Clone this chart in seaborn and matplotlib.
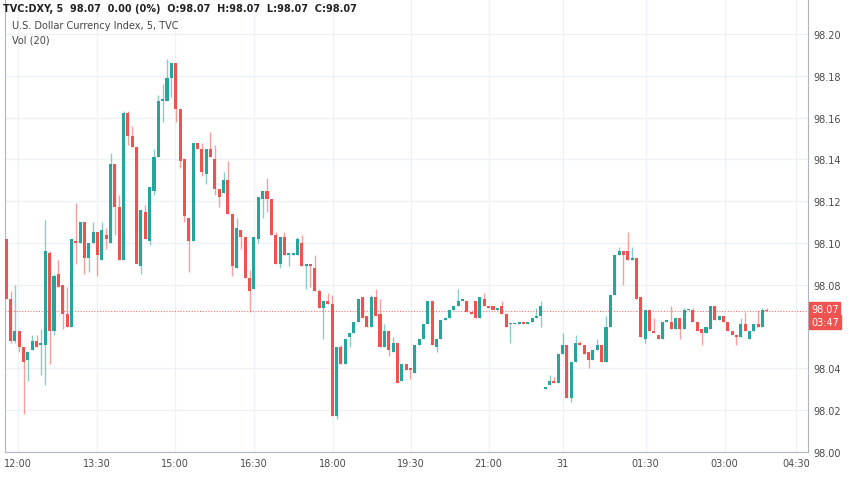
import numpy as np
import pandas as pd
import matplotlib
matplotlib.use("Agg")
import matplotlib.pyplot as plt
import seaborn as sns

# velas de 5 minutos
opens = [98.102,98.073,98.053,98.058,98.050,98.044,98.049,98.053,98.051,98.051,
98.095,98.058,98.085,98.080,98.066,98.060,98.101,98.100,98.110,98.093,
98.100,98.105,98.092,98.104,98.100,98.138,98.117,98.092,98.162,98.151,
98.146,98.089,98.115,98.101,98.125,98.141,98.168,98.168,98.179,98.186,
98.164,98.140,98.112,98.101,98.148,98.145,98.133,98.145,98.140,98.126,
98.124,98.130,98.114,98.088,98.106,98.103,98.083,98.078,98.102,98.121,
98.125,98.121,98.104,98.090,98.103,98.094,98.094,98.094,98.100,98.089,
98.090,98.088,98.077,98.069,98.072,98.071,98.017,98.050,98.042,98.055,
98.057,98.062,98.074,98.065,98.060,98.074,98.066,98.050,98.058,98.048,
98.052,98.034,98.042,98.040,98.038,98.051,98.054,98.061,98.072,98.050,
98.054,98.063,98.064,98.068,98.070,98.072,98.072,98.067,98.072,98.064,
98.073,98.070,98.070,98.068,98.070,98.066,98.061,98.061,98.061,98.062,
98.061,98.062,98.064,98.065,98.030,98.032,98.034,98.033,98.047,98.051,
98.026,98.043,98.052,98.051,98.048,98.044,98.049,98.051,98.043,98.060,
98.075,98.094,98.096,98.096,98.092,98.093,98.074,98.054,98.068,98.058,
98.056,98.054,98.062,98.062,98.059,98.064,98.059,98.068,98.068,98.062,
98.059,98.057,98.059,98.070,98.063,98.065,98.062,98.058,98.056,98.055,
98.061,98.054,98.058,98.061,98.060,98.068]
closes = [98.073,98.053,98.058,98.050,98.043,98.048,98.053,98.050,98.052,98.096,
98.058,98.084,98.079,98.066,98.060,98.102,98.100,98.110,98.093,98.100,
98.105,98.094,98.106,98.102,98.138,98.117,98.092,98.162,98.151,98.146,
98.090,98.116,98.102,98.127,98.141,98.168,98.169,98.179,98.186,98.164,
98.139,98.113,98.101,98.148,98.145,98.134,98.145,98.141,98.126,98.122,
98.130,98.114,98.089,98.107,98.103,98.083,98.077,98.103,98.122,98.125,
98.121,98.104,98.090,98.103,98.094,98.095,98.095,98.102,98.089,98.090,
98.089,98.077,98.069,98.072,98.071,98.017,98.050,98.042,98.054,98.057,
98.062,98.073,98.064,98.060,98.074,98.065,98.050,98.058,98.049,98.052,
98.033,98.042,98.039,98.039,98.051,98.054,98.061,98.072,98.051,98.054,
98.063,98.064,98.068,98.070,98.072,98.073,98.067,98.066,98.064,98.074,
98.070,98.069,98.068,98.069,98.066,98.060,98.0615,98.0615,98.062,98.061,
98.062,98.064,98.065,98.070,98.031,98.034,98.033,98.047,98.051,98.026,
98.043,98.052,98.051,98.047,98.044,98.049,98.051,98.043,98.060,98.075,
98.094,98.096,98.094,98.092,98.093,98.073,98.055,98.068,98.058,98.057,
98.054,98.062,98.063,98.059,98.064,98.059,98.068,98.0685,98.062,98.058,
98.057,98.060,98.070,98.063,98.065,98.062,98.058,98.056,98.055,98.061,
98.058,98.058,98.061,98.060,98.068,98.0675]
highs = [98.102,98.077,98.080,98.058,98.050,98.048,98.056,98.056,98.059,98.111,
98.096,98.085,98.092,98.080,98.079,98.102,98.119,98.110,98.110,98.100,
98.110,98.105,98.110,98.107,98.143,98.138,98.123,98.163,98.163,98.156,
98.146,98.116,98.118,98.127,98.145,98.171,98.176,98.188,98.186,98.186,
98.164,98.140,98.112,98.148,98.148,98.148,98.145,98.153,98.147,98.126,
98.134,98.139,98.114,98.112,98.106,98.103,98.087,98.103,98.122,98.125,
98.131,98.121,98.105,98.103,98.105,98.095,98.095,98.103,98.104,98.090,
98.090,98.094,98.078,98.072,98.076,98.075,98.050,98.051,98.054,98.057,
98.062,98.073,98.074,98.065,98.075,98.078,98.073,98.061,98.058,98.055,
98.052,98.042,98.042,98.040,98.051,98.054,98.061,98.072,98.072,98.054,
98.063,98.064,98.068,98.070,98.078,98.073,98.072,98.067,98.072,98.074,
98.076,98.070,98.070,98.069,98.072,98.066,98.0615,98.0615,98.062,98.062,
98.062,98.064,98.069,98.072,98.031,98.037,98.036,98.047,98.057,98.051,
98.043,98.056,98.053,98.051,98.048,98.049,98.054,98.051,98.065,98.075,
98.094,98.098,98.096,98.105,98.098,98.093,98.074,98.068,98.068,98.064,
98.056,98.062,98.063,98.070,98.064,98.064,98.069,98.0685,98.069,98.062,
98.059,98.060,98.070,98.070,98.065,98.065,98.062,98.058,98.056,98.064,
98.067,98.058,98.061,98.068,98.069,98.069]
lows = [98.073,98.052,98.052,98.048,98.018,98.034,98.049,98.050,98.037,98.032,
98.042,98.056,98.079,98.059,98.060,98.060,98.090,98.100,98.085,98.086,
98.100,98.084,98.092,98.097,98.100,98.104,98.092,98.092,98.147,98.146,
98.090,98.085,98.102,98.099,98.123,98.141,98.158,98.168,98.170,98.158,
98.136,98.110,98.086,98.101,98.145,98.132,98.128,98.141,98.123,98.117,
98.124,98.114,98.084,98.088,98.097,98.083,98.067,98.078,98.100,98.112,
98.115,98.104,98.090,98.088,98.094,98.089,98.094,98.094,98.089,98.078,
98.079,98.077,98.069,98.054,98.071,98.017,98.016,98.042,98.042,98.050,
98.057,98.062,98.064,98.060,98.060,98.065,98.050,98.050,98.046,98.048,
98.033,98.034,98.039,98.035,98.038,98.051,98.054,98.061,98.051,98.048,
98.054,98.063,98.064,98.068,98.070,98.072,98.067,98.066,98.064,98.064,
98.070,98.069,98.068,98.068,98.066,98.060,98.052,98.061,98.061,98.061,
98.061,98.062,98.064,98.060,98.030,98.032,98.033,98.033,98.047,98.026,
98.024,98.043,98.051,98.047,98.040,98.044,98.049,98.043,98.043,98.060,
98.075,98.094,98.080,98.092,98.092,98.073,98.055,98.052,98.058,98.057,
98.054,98.054,98.062,98.059,98.059,98.054,98.059,98.068,98.062,98.058,
98.051,98.057,98.059,98.063,98.063,98.062,98.058,98.056,98.051,98.055,
98.058,98.054,98.058,98.060,98.060,98.0675]

tick_labels = ["12:00", "13:30", "15:00", "16:30", "18:00", "19:30", "21:00",
               "31", "01:30", "03:00", "04:30"]
tick_bars = [2.8, 20.9, 38.9, 57.0, 75.2, 93.1, 111.0, 128.0, 147.1, 165.3, 181.8]
price_ticks = [98.00, 98.02, 98.04, 98.08, 98.10, 98.12, 98.14, 98.16, 98.18, 98.20]
last_price = 98.0675

df = pd.DataFrame({"open": opens, "high": highs, "low": lows, "close": closes})
df["i"] = np.arange(len(df))
df["up"] = df["close"] >= df["open"]

sns.set_theme(style="white")
verde = "#26a69a"
rojo = "#ef5350"

fig = plt.figure(figsize=(8.52, 4.85), dpi=100)
ax = fig.add_axes([0.006, 0.066, 0.942, 0.934])

cols = np.where(df["up"], verde, rojo)
ax.vlines(df["i"], df["low"], df["high"], colors=cols, linewidth=1, alpha=0.55, zorder=2)
body = np.maximum((df["close"] - df["open"]).abs(), 0.0004)
base = np.minimum(df["open"], df["close"])
ax.bar(df["i"], body, bottom=base, width=0.7, color=cols, linewidth=0, zorder=3)

ax.axhline(last_price, color=rojo, linestyle=(0, (1, 1.5)), linewidth=0.8, alpha=0.8, zorder=1)

ax.set_xlim(-0.25, 184.4)
ax.set_ylim(98.00, 98.2167)
ax.set_xticks(tick_bars)
ax.set_xticklabels(tick_labels)
ax.yaxis.tick_right()
ax.set_yticks(price_ticks)
ax.set_yticklabels([f"{p:.2f}" for p in price_ticks])
ax.tick_params(axis="both", labelsize=7, colors="#4a4a4a", length=0, pad=4)
ax.grid(True, color="#eef2f6", linewidth=1)
ax.spines["top"].set_visible(False)
for s in ["left", "right", "bottom"]:
    ax.spines[s].set_color("#b2b5be")
    ax.spines[s].set_linewidth(0.8)

# etiquetas de precio actual
yt = ax.get_yaxis_transform()
ax.text(1.004, last_price + 0.001, "98.07", transform=yt, fontsize=7,
        color="white", va="center", ha="left",
        bbox=dict(boxstyle="square,pad=0.2", fc=rojo, ec=rojo))
ax.text(1.004, last_price - 0.0055, "03:47", transform=yt, fontsize=7,
        color="white", va="center", ha="left",
        bbox=dict(boxstyle="square,pad=0.2", fc=rojo, ec=rojo))

fig.text(0.004, 0.992, "TVC:DXY, 5  98.07  0.00 (0%)  O:98.07  H:98.07  L:98.07  C:98.07",
         fontsize=7, color="#222", va="top", fontweight="bold")
fig.text(0.014, 0.957, "U.S. Dollar Currency Index, 5, TVC", fontsize=7, color="#444", va="top")
fig.text(0.014, 0.927, "Vol (20)", fontsize=7, color="#444", va="top")

fig.savefig("out.png", dpi=100)
